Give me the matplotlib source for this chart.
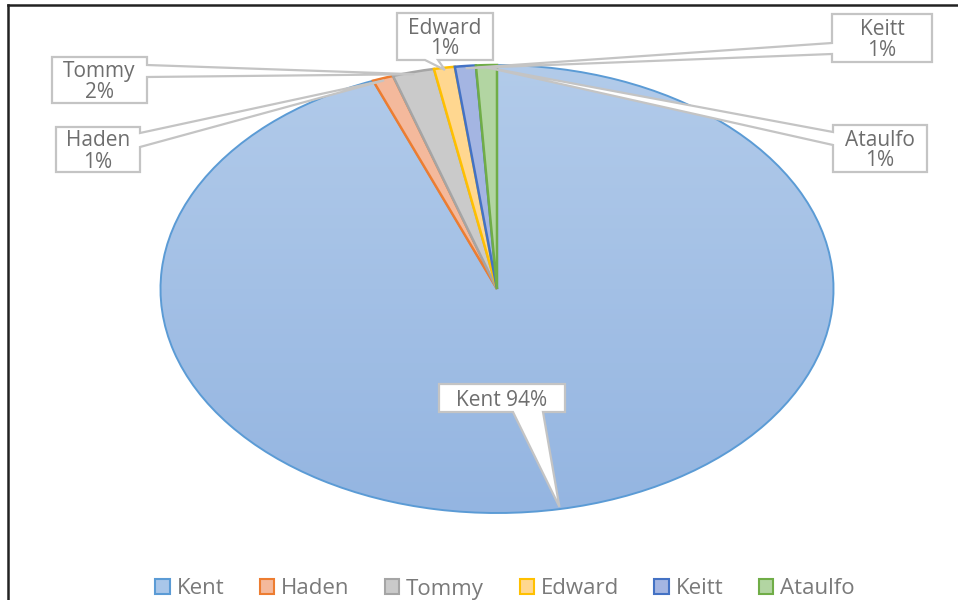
import numpy as np
import matplotlib
matplotlib.use("Agg")
import matplotlib.pyplot as plt
from matplotlib.patches import Polygon, Patch
from matplotlib.transforms import Affine2D
from matplotlib.lines import Line2D
from matplotlib.colors import to_rgb

# mango varieties share
varieties = ["Kent", "Haden", "Tommy", "Edward", "Keitt", "Ataulfo"]
shares = [94, 1, 2, 1, 1, 1]

edge_colors = ["#5b9bd5", "#ed7d31", "#a5a5a5", "#ffc000", "#4472c4", "#70ad47"]
fill_colors = ["#a9c6e9", "#f4b99c", "#cacaca", "#ffd790", "#a4b5e2", "#b2d5a2"]

# callout boxes (pixels from top-left): box, side of the pointer, pointer base
callouts = {
    "Kent": ((439, 384, 565, 412), "bottom", (513, 543)),
    "Haden": ((56, 127, 140, 172), "right", (133, 147)),
    "Tommy": ((52, 57, 147, 103), "right", (65, 77)),
    "Edward": ((397, 13, 493, 60), "bottom", (425, 438)),
    "Keitt": ((832, 14, 932, 62), "left", (43, 54)),
    "Ataulfo": ((833, 125, 927, 172), "left", (132, 145)),
}

W, H = 958, 600
FONT = ["Open Sans", "DejaVu Sans"]
TXT = "#6e6e6e"

fig = plt.figure(figsize=(W / 100, H / 100), dpi=100)
ax = fig.add_axes([0, 0, 1, 1])

wedges, _ = ax.pie(shares, startangle=90, counterclock=False,
                   colors=fill_colors, wedgeprops=dict(linewidth=1.8))
for w, ec in zip(wedges, edge_colors):
    w.set_edgecolor(ec)
    w.set_zorder(3)
wedges[0].set_linewidth(1.4)

# vertical gradient for the big slice
top, bot = np.array(to_rgb("#b2cbea")), np.array(to_rgb("#94b5e1"))
t = np.linspace(0, 1, 256)[:, None, None]
grad = top * (1 - t) + bot * t
im = ax.imshow(grad, extent=(-1, 1, -1, 1), origin="upper", aspect="auto", zorder=2)
im.set_clip_path(wedges[0])
wedges[0].set_facecolor("none")

# stretch the pie into an ellipse
cx, cy, rx, ry = 497, 289, 336.5, 224
ax.set_aspect("auto")
ax.set_xlim(-cx / rx, (W - cx) / rx)
ax.set_ylim(-(H - cy) / ry, cy / ry)
ax.axis("off")

fig.canvas.draw()
pix = Affine2D().scale(1, -1).translate(0, H)


def tip_of(w):
    a = np.deg2rad((w.theta1 + w.theta2) / 2)
    dx, dy = ax.transData.transform((0.99 * np.cos(a), 0.99 * np.sin(a)))
    return dx, H - dy


def callout_poly(box, side, base, tip):
    x0, y0, x1, y1 = box
    b0, b1 = base
    pts = [(x0, y0)]
    if side == "top":
        pts += [(b0, y0), tip, (b1, y0)]
    pts.append((x1, y0))
    if side == "right":
        pts += [(x1, b0), tip, (x1, b1)]
    pts.append((x1, y1))
    if side == "bottom":
        pts += [(b1, y1), tip, (b0, y1)]
    pts.append((x0, y1))
    if side == "left":
        pts += [(x0, b1), tip, (x0, b0)]
    return pts


for w, name, v in zip(wedges, varieties, shares):
    box, side, base = callouts[name]
    poly = Polygon(callout_poly(box, side, base, tip_of(w)), closed=True,
                   facecolor="white", edgecolor="#c4c4c4", linewidth=1.6,
                   transform=pix, zorder=5, joinstyle="miter")
    ax.add_patch(poly)
    label = f"{name} {v}%" if name == "Kent" else f"{name}\n{v}%"
    ax.text((box[0] + box[2]) / 2, (box[1] + box[3]) / 2 + 2, label,
            transform=pix, ha="center", va="center", fontsize=15,
            color=TXT, family=FONT, linespacing=1.0, zorder=6)

handles = [Patch(facecolor=f, edgecolor=e, linewidth=1.5)
           for f, e in zip(fill_colors, edge_colors)]
fig.legend(handles, varieties, loc="center", bbox_to_anchor=(505 / W, 11 / H),
           ncol=6, frameon=False, handlelength=0.65, handleheight=0.65,
           handletextpad=0.3, columnspacing=1.6,
           prop={"family": FONT, "size": 16}, labelcolor="#7a7a7a")

# border lines
fig.add_artist(Line2D([8 / W, 8 / W], [0, 1 - 5 / H], color="#222222",
                      linewidth=1.8, transform=fig.transFigure))
fig.add_artist(Line2D([8 / W, 1], [1 - 5 / H, 1 - 5 / H], color="#222222",
                      linewidth=1.8, transform=fig.transFigure))

fig.savefig("out.png", dpi=100)
